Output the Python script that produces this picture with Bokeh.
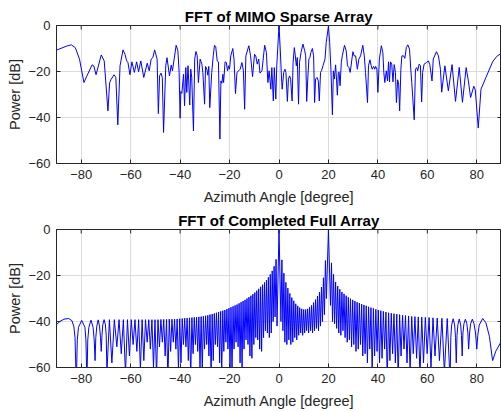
import math
from bokeh.plotting import figure
from bokeh.layouts import column
from bokeh.models import Range1d, FixedTicker
from bokeh.embed import file_html
from bokeh.resources import INLINE

x_limits = (-90, 90)
y_limits = (-60, 0)
x_ticks = [-80, -60, -40, -20, 0, 20, 40, 60, 80]
y_ticks = [-60, -40, -20, 0]

sparse_angle = [
    -90, -86, -84, -82.4, -80.7, -78.9, -77.7, -75.6, -74.9, -74.0,
    -71.9, -70.7, -69.2, -68.5, -68.0, -66.7, -66.0, -65.2, -64.3, -63.1,
    -62.3, -61.6, -61.1, -60.3, -59.5, -58.5, -57.6, -56.8, -55.9, -54.7,
    -53.3, -52.5, -51.7, -51.0, -50.3, -49.3, -48.8, -48.3, -47.7, -47.2,
    -46.7, -45.8, -45.3, -44.3, -43.6, -43.1, -41.6, -40.9, -40.4, -40.0,
    -39.7, -39.3, -38.6, -38.2, -37.7, -37.3, -36.8, -36.1, -35.7, -35.3,
    -34.6, -34.1, -33.6, -33.1, -32.6, -31.9, -31.2, -30.8, -30.1, -29.7,
    -29.2, -28.8, -28.4, -28.0, -27.2, -26.6, -26.1, -25.6, -25.0, -24.5,
    -23.9, -23.5, -23.1, -22.7, -22.4, -21.8, -21.3, -20.8, -20.4, -20.0,
    -19.5, -18.7, -18.2, -17.6, -17.0, -16.3, -15.7, -15.0, -14.4, -13.9,
    -13.4, -12.2, -11.5, -10.7, -9.9, -9.4, -8.8, -8.2, -7.7, -6.9,
    -5.8, -5.1, -4.5, -4.0, -3.3, -2.9, -2.3, -1.9, -1.3, -0.9,
    0.0, 0.5, 1.1, 1.3, 1.9, 2.4, 2.8, 3.4, 3.8, 4.3,
    4.7, 5.3, 5.7, 6.2, 6.6, 7.0, 7.4, 7.9, 8.3, 8.9,
    9.7, 10.4, 10.8, 11.2, 11.7, 12.1, 12.5, 12.9, 13.5, 14.0,
    14.4, 14.8, 15.4, 15.9, 16.3, 16.8, 17.2, 17.8, 18.6, 19.1,
    20.0, 20.5, 21.0, 21.6, 22.0, 22.4, 22.9, 23.3, 23.6, 24.0,
    24.3, 24.7, 25.2, 25.6, 26.5, 27.2, 27.7, 28.3, 28.8, 29.4,
    29.9, 30.4, 31.0, 31.7, 32.3, 33.0, 33.9, 34.5, 35.0, 35.8,
    36.2, 36.8, 37.3, 37.7, 38.3, 38.7, 39.1, 39.6, 40.0, 40.6,
    41.4, 42.0, 42.4, 42.8, 43.4, 43.9, 44.3, 44.7, 45.1, 45.6,
    46.1, 46.6, 47.1, 47.5, 48.0, 48.4, 48.8, 49.3, 49.7, 50.4,
    50.9, 51.5, 52.1, 52.8, 53.3, 53.7, 54.7, 55.2, 55.7, 56.1,
    56.7, 57.2, 57.7, 58.1, 58.7, 59.7, 60.4, 61.0, 61.9, 62.4,
    63.7, 64.5, 65.3, 65.8, 67.1, 68.5, 70.0, 71.4, 72.9, 74.2,
    75.7, 76.6, 77.5, 78.8, 79.4, 80.6, 81.7, 83.7, 86.4, 88.0,
    90.0,
]
sparse_power = [
    -10.7, -9.0, -8.4, -9.6, -14.6, -24.8, -21.9, -17.1, -17.6, -21.4,
    -12.8, -15.4, -37.1, -24.8, -23.6, -21.4, -22.6, -43.2, -17.5, -10.6,
    -12.5, -15.4, -16.1, -21.4, -15.8, -20.4, -15.8, -20.1, -15.4, -22.6,
    -16.4, -19.7, -14.6, -13.9, -10.6, -14.6, -38.3, -21.9, -20.7, -22.6,
    -46.5, -17.5, -14.0, -21.9, -17.2, -19.7, -8.6, -11.0, -20.4, -40.3,
    -28.7, -29.5, -21.2, -34.9, -18.3, -29.1, -17.5, -34.6, -19.0, -22.6,
    -45.8, -14.6, -11.3, -13.0, -24.8, -14.6, -16.8, -20.4, -34.2, -17.8,
    -19.0, -21.6, -17.8, -35.7, -20.4, -13.2, -8.6, -9.1, -15.4, -15.8,
    -49.4, -24.1, -25.1, -21.2, -24.8, -15.8, -16.1, -19.7, -17.5, -19.0,
    -13.2, -10.0, -14.6, -29.6, -20.4, -19.7, -19.0, -16.1, -19.7, -36.4,
    -13.2, -8.8, -13.2, -22.2, -12.5, -13.2, -16.8, -14.6, -20.7, -19.7,
    -8.6, -11.7, -24.8, -19.7, -27.7, -18.3, -32.8, -18.3, -32.0, -17.5,
    0.0, -10.3, -24.8, -27.7, -20.4, -19.0, -20.4, -33.0, -23.3, -21.9,
    -23.3, -32.8, -16.1, -9.6, -13.2, -17.5, -13.9, -34.2, -16.1, -11.7,
    -8.1, -11.0, -13.2, -33.0, -21.9, -14.6, -13.9, -11.7, -10.0, -13.2,
    -33.5, -23.3, -22.6, -24.1, -32.8, -20.4, -19.7, -17.5, -14.6, -7.4,
    -0.3, -7.4, -19.0, -38.8, -19.7, -23.3, -17.1, -24.1, -30.3, -20.4,
    -20.1, -26.2, -16.1, -13.2, -8.6, -11.0, -17.5, -18.3, -20.4, -15.4,
    -11.4, -13.2, -13.2, -19.0, -14.6, -13.2, -8.6, -13.2, -20.4, -33.5,
    -17.5, -14.9, -17.5, -19.0, -17.8, -19.0, -17.8, -19.0, -29.1, -14.6,
    -8.8, -11.7, -20.4, -24.8, -19.7, -24.1, -15.8, -24.5, -15.8, -16.8,
    -24.5, -17.0, -20.4, -33.5, -23.6, -25.5, -37.1, -19.0, -13.2, -13.2,
    -14.3, -9.6, -8.4, -10.3, -19.0, -24.8, -41.0, -19.0, -18.3, -19.7,
    -16.8, -17.5, -33.2, -20.4, -16.8, -16.1, -15.4, -17.0, -24.1, -14.6,
    -11.4, -13.2, -19.0, -29.0, -17.5, -28.4, -17.0, -33.0, -18.2, -33.4,
    -18.3, -24.1, -31.3, -26.4, -28.0, -44.6, -27.7, -22.6, -15.8, -13.5,
    -12.0,
]

full_angle = [
    -90, -88.5, -87, -85.1, -83.8, -83.0, -82.5, -82.0,
    -81.6, -81.1, -79.8, -78.5, -78.1, -77.7,
    -77.35, -76.9, -76.05, -75.2, -74.75, -74.4,
    -74.1, -73.7, -73.15, -72.6, -72.2, -71.9,
    -71.6, -71.3, -70.75, -70.2, -69.9, -69.6,
    -68.6, -67.6, -66.6, -65.6, -64.7, -63.8, -62.95, -62.1, -61.3, -60.5,
    -59.75, -59.0, -58.25, -57.5, -56.78, -56.06, -55.37, -54.67, -54.0, -53.33,
    -52.68, -52.03, -51.4, -50.77, -50.16, -49.54, -48.95, -48.35, -47.77, -47.19,
    -46.62, -46.05, -45.49, -44.93, -44.39, -43.84, -43.3, -42.76, -42.24, -41.71,
    -41.19, -40.67, -40.16, -39.65, -39.15, -38.65, -38.15, -37.65, -37.16, -36.67,
    -36.19, -35.71, -35.23, -34.75, -34.28, -33.81, -33.35, -32.88, -32.42, -31.95,
    -31.5, -31.04, -30.59, -30.13, -29.69, -29.24, -28.8, -28.35, -27.91, -27.47,
    -27.03, -26.59, -26.16, -25.73, -25.3, -24.87, -24.44, -24.01, -23.59, -23.16,
    -22.74, -22.32, -21.9, -21.48, -21.07, -20.65, -20.24, -19.82, -19.41, -19.0,
    -18.59, -18.18, -17.77, -17.36, -16.96, -16.55, -16.15, -15.74, -15.34, -14.94,
    -14.54, -14.14, -13.74, -13.34, -12.94, -12.54, -12.15, -11.75, -11.36, -10.96,
    -10.57, -10.17, -9.78, -9.38, -8.99, -8.6, -8.21, -7.81, -7.42, -7.03,
    -6.64, -6.25, -5.86, -5.47, -5.08, -4.69, -4.3, -3.91, -3.53, -3.14,
    -2.75, -2.36, -1.98, -1.59, -1.2, -0.8, 0.0,
    0.78, 1.18, 1.58, 1.98, 2.38, 2.78, 3.18, 3.58, 3.98, 4.38,
    4.78, 5.18, 5.58, 5.98, 6.38, 6.78, 7.18, 7.58, 7.98, 8.38,
    8.78, 9.18, 9.58, 9.98, 10.38, 10.78, 11.18, 11.58, 11.98, 12.38,
    12.78, 13.18, 13.58, 13.98, 14.38, 14.78, 15.18, 15.58, 15.98, 16.38,
    16.78, 17.18, 17.58, 17.98, 18.38, 18.78, 19.18, 20.0,
    20.82, 21.24, 21.65, 22.07, 22.48, 22.9, 23.32, 23.75, 24.17, 24.6,
    25.02, 25.45, 25.87, 26.3, 26.73, 27.17, 27.6, 28.04, 28.47, 28.92,
    29.36, 29.8, 30.25, 30.7, 31.14, 31.6, 32.05, 32.5, 32.96, 33.43,
    33.89, 34.35, 34.82, 35.29, 35.76, 36.24, 36.72, 37.2, 37.69, 38.18,
    38.67, 39.17, 39.66, 40.17, 40.67, 41.18, 41.69, 42.21, 42.73, 43.26,
    43.78, 44.32, 44.86, 45.41, 45.95, 46.51, 47.07, 47.64, 48.21, 48.79,
    49.37, 49.97, 50.56, 51.17, 51.78, 52.41, 53.03, 53.68, 54.32, 54.99,
    55.65, 56.34, 57.02, 57.74, 58.45, 59.19, 59.93, 60.71, 61.48, 62.29,
    63.1, 64.0, 64.9, 65.9, 66.9, 68.05, 69.2,
    69.5, 69.85, 70.45, 71.05, 71.4, 71.7,
    72.0, 72.35, 72.9, 73.5, 73.8, 74.1,
    74.4, 74.8, 75.4, 76.0, 76.4, 76.7,
    77.1, 77.5, 78.2, 78.9, 79.5, 80.0,
    80.4, 81.0, 82.4, 83.7, 85.1, 86.4,
    87.7, 90.0,
]
full_power = [
    -41.3, -39.9, -39.0, -38.7, -39.6, -42.0, -47.0, -68,
    -48, -42.5, -39.5, -42.5, -48, -66,
    -48, -42.5, -39.4, -42.5, -48, -57,
    -47, -42, -39.3, -42, -47, -53,
    -46, -41.5, -39.2, -41.5, -46, -62,
    -39.2, -58, -39.2, -51, -39.2, -54, -39.2, -63, -39.2, -55,
    -39.2, -50, -39.2, -53, -39.2, -61, -39.2, -57, -39.2, -49,
    -39.2, -52, -39.2, -60, -39.2, -64, -39.2, -51, -39.1, -49,
    -39.1, -55, -39.1, -66, -39.0, -53, -39.0, -49, -38.9, -52,
    -38.9, -61, -38.8, -58, -38.7, -50, -38.6, -51, -38.5, -57,
    -38.4, -65, -38.3, -54, -38.2, -50, -38.1, -53, -38.0, -60,
    -37.9, -62, -37.7, -52, -37.5, -50, -37.3, -55, -37.0, -64,
    -36.8, -57, -36.5, -50, -36.2, -51, -35.9, -58, -35.6, -62,
    -35.3, -53, -35.0, -49, -34.6, -52, -34.2, -60, -33.8, -63,
    -33.4, -52, -33.0, -49, -32.6, -51, -32.1, -58, -31.6, -61,
    -31.1, -52, -30.6, -48, -30.0, -50, -29.4, -55, -28.8, -56,
    -28.1, -50, -27.4, -47, -26.6, -48, -25.8, -52, -24.9, -53,
    -24.0, -47, -23.0, -44, -22.0, -45, -20.8, -47, -19.5, -45,
    -18.0, -40, -16.0, -38, -13.0, -42, 0.0,
    -40, -13.2, -44, -19.0, -49, -23.0, -50, -25.5, -48, -27.8,
    -50, -29.6, -49, -31.0, -47, -32.3, -48, -33.2, -46, -34.0,
    -45, -34.5, -46, -34.8, -45, -34.8, -44, -34.5, -45, -33.8,
    -44, -33.0, -45, -31.8, -44, -30.5, -43, -29.0, -44, -27.2,
    -42, -25.0, -40, -21.0, -37, -13.5, -30, 0.0,
    -33, -14.5, -40, -19.5, -41, -22.8, -43, -24.6, -45, -26.0,
    -46, -27.2, -44, -28.0, -47, -28.8, -49, -29.5, -48, -30.1,
    -51, -30.6, -50, -31.1, -53, -31.6, -52, -32.0, -50, -32.4,
    -55, -32.8, -54, -33.2, -58, -33.6, -52, -34.0, -63, -34.3,
    -55, -34.7, -53, -35.0, -58, -35.3, -56, -35.6, -52, -35.9,
    -66, -36.2, -57, -36.4, -54, -36.6, -58, -36.8, -65, -37.0,
    -55, -37.2, -52, -37.4, -58, -37.6, -62, -37.8, -54, -37.9,
    -56, -38.0, -64, -38.1, -58, -38.2, -54, -38.3, -60, -38.4,
    -55, -38.5, -57, -38.6, -62, -38.7, -66,
    -47, -41.5, -38.8, -41.5, -47, -58,
    -46, -41.5, -38.9, -41.5, -46, -55,
    -45, -41, -39.0, -41, -45, -52,
    -45, -41, -39.0, -41, -45, -52,
    -46, -41.5, -38.7, -40.6, -46.4, -57,
    -52.9, -48.5,
]

FONT = "Liberation Sans"
TXT = "#262626"
GRID = "#dcdcdc"


def make_panel(title, xs, ys, top, frame_h, bottom):
    p = figure(width=501, height=top + frame_h + bottom, output_backend="svg",
               toolbar_location=None, x_range=Range1d(*x_limits), y_range=Range1d(*y_limits),
               min_border_left=56, min_border_right=0, min_border_top=top,
               min_border_bottom=bottom, x_axis_label="Azimuth Angle [degree]",
               y_axis_label="Power [dB]", background_fill_color="white",
               border_fill_color="white")
    p.title.text = title
    p.title.align = "center"
    p.title.text_font = FONT
    p.title.text_font_size = "15px"
    p.title.text_font_style = "bold"
    p.title.text_color = "black"
    p.title.standoff = 2
    p.outline_line_color = TXT
    p.outline_line_width = 1

    p.xaxis.ticker = FixedTicker(ticks=x_ticks)
    p.yaxis.ticker = FixedTicker(ticks=y_ticks)
    for ax in (p.xaxis[0], p.yaxis[0]):
        ax.major_tick_in = 4
        ax.major_tick_out = 0
        ax.minor_tick_line_color = None
        ax.axis_line_color = TXT
        ax.major_tick_line_color = TXT
        ax.major_label_text_font = FONT
        ax.major_label_text_font_size = "13px"
        ax.major_label_text_color = TXT
        ax.axis_label_text_font = FONT
        ax.axis_label_text_font_size = "14.5px"
        ax.axis_label_text_font_style = "normal"
        ax.axis_label_text_color = TXT
    p.xaxis.major_label_standoff = 6
    p.xaxis.axis_label_standoff = 7
    p.yaxis.major_label_standoff = 6
    p.yaxis.axis_label_standoff = 2

    p.xgrid.ticker = FixedTicker(ticks=x_ticks)
    p.ygrid.ticker = FixedTicker(ticks=y_ticks)
    p.xgrid.grid_line_color = GRID
    p.ygrid.grid_line_color = GRID

    # inward tick marks on the top and right edges of the box (clipped to the frame)
    p.scatter(x=x_ticks, y=[y_limits[1]] * len(x_ticks), marker="dash", size=8,
              angle=math.pi / 2, line_color=TXT, line_width=1)
    p.scatter(x=[x_limits[1]] * len(y_ticks), y=y_ticks, marker="dash", size=8,
              line_color=TXT, line_width=1)

    p.line(xs, ys, line_color="#0000ff", line_width=1)
    return p


p1 = make_panel("FFT of MIMO Sparse Array", sparse_angle, sparse_power, 25, 138, 45)
p2 = make_panel("FFT of Completed Full Array", full_angle, full_power, 21, 138, 45)
layout = column(p1, p2, spacing=0)

open("out.html", "w").write(file_html(layout, INLINE))
